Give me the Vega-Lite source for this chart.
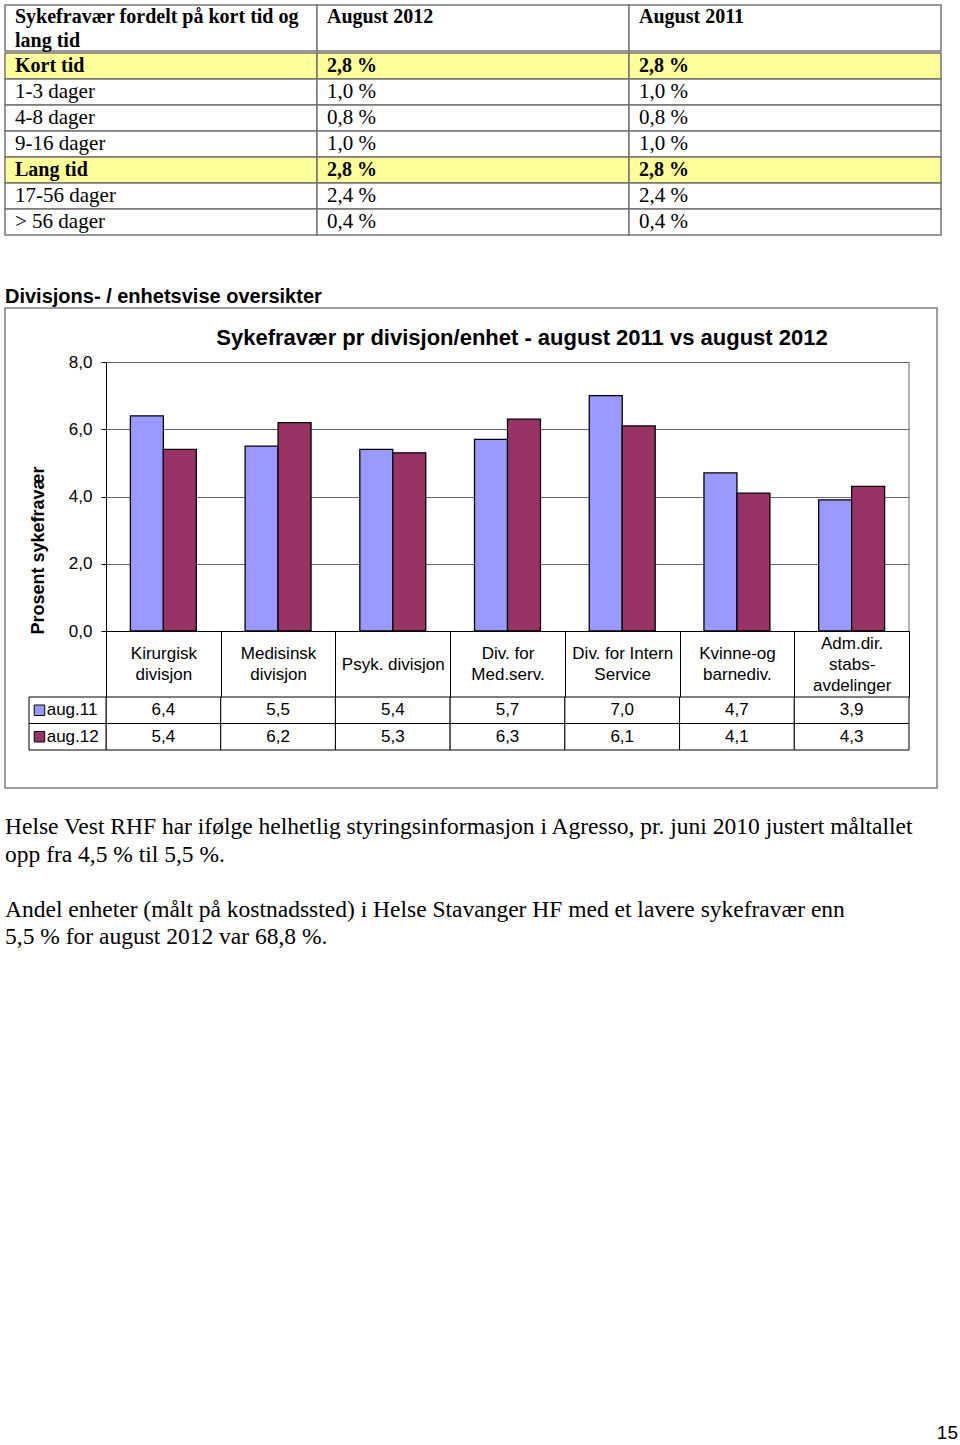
{
  "$schema": "https://vega.github.io/schema/vega-lite/v6.json",
  "padding": {"left": 4, "top": 4, "right": 0, "bottom": 0},
  "spacing": 0,
  "background": "white",
  "config": {
    "font": "Liberation Sans",
    "view": {"stroke": null},
    "locale": {"number": {"decimal": ",", "thousands": " ", "grouping": [3], "currency": ["", " kr"]}},
    "axis": {"labelColor": "black", "titleColor": "black"}
  },
  "resolve": {"scale": {"color": "independent", "fill": "independent"}},
  "datasets": {
    "table": [
      {"row": 1, "col": "c1", "text": "Kort tid", "kind": "sum"},
      {"row": 1, "col": "c2", "text": "2,8 %", "kind": "sum"},
      {"row": 1, "col": "c3", "text": "2,8 %", "kind": "sum"},
      {"row": 2, "col": "c1", "text": "1-3 dager", "kind": "detail"},
      {"row": 2, "col": "c2", "text": "1,0 %", "kind": "detail"},
      {"row": 2, "col": "c3", "text": "1,0 %", "kind": "detail"},
      {"row": 3, "col": "c1", "text": "4-8 dager", "kind": "detail"},
      {"row": 3, "col": "c2", "text": "0,8 %", "kind": "detail"},
      {"row": 3, "col": "c3", "text": "0,8 %", "kind": "detail"},
      {"row": 4, "col": "c1", "text": "9-16 dager", "kind": "detail"},
      {"row": 4, "col": "c2", "text": "1,0 %", "kind": "detail"},
      {"row": 4, "col": "c3", "text": "1,0 %", "kind": "detail"},
      {"row": 5, "col": "c1", "text": "Lang tid", "kind": "sum"},
      {"row": 5, "col": "c2", "text": "2,8 %", "kind": "sum"},
      {"row": 5, "col": "c3", "text": "2,8 %", "kind": "sum"},
      {"row": 6, "col": "c1", "text": "17-56 dager", "kind": "detail"},
      {"row": 6, "col": "c2", "text": "2,4 %", "kind": "detail"},
      {"row": 6, "col": "c3", "text": "2,4 %", "kind": "detail"},
      {"row": 7, "col": "c1", "text": "> 56 dager", "kind": "detail"},
      {"row": 7, "col": "c2", "text": "0,4 %", "kind": "detail"},
      {"row": 7, "col": "c3", "text": "0,4 %", "kind": "detail"}
    ],
    "bars": [
      {"division": "Kirurgisk\ndivisjon", "series": "aug.11", "value": 6.4},
      {"division": "Kirurgisk\ndivisjon", "series": "aug.12", "value": 5.4},
      {"division": "Medisinsk\ndivisjon", "series": "aug.11", "value": 5.5},
      {"division": "Medisinsk\ndivisjon", "series": "aug.12", "value": 6.2},
      {"division": "Psyk. divisjon", "series": "aug.11", "value": 5.4},
      {"division": "Psyk. divisjon", "series": "aug.12", "value": 5.3},
      {"division": "Div. for\nMed.serv.", "series": "aug.11", "value": 5.7},
      {"division": "Div. for\nMed.serv.", "series": "aug.12", "value": 6.3},
      {"division": "Div. for Intern\nService", "series": "aug.11", "value": 7.0},
      {"division": "Div. for Intern\nService", "series": "aug.12", "value": 6.1},
      {"division": "Kvinne-og\nbarnediv.", "series": "aug.11", "value": 4.7},
      {"division": "Kvinne-og\nbarnediv.", "series": "aug.12", "value": 4.1},
      {"division": "Adm.dir.\nstabs-\navdelinger", "series": "aug.11", "value": 3.9},
      {"division": "Adm.dir.\nstabs-\navdelinger", "series": "aug.12", "value": 4.3}
    ],
    "legendRows": [
      {"series": "aug.11"},
      {"series": "aug.12"}
    ],
    "paragraphs": [
      {"line": 1, "text": "Helse Vest RHF har ifølge helhetlig styringsinformasjon i Agresso, pr. juni 2010 justert måltallet"},
      {"line": 2, "text": "opp fra 4,5 % til 5,5 %."},
      {"line": 4, "text": "Andel enheter (målt på kostnadssted) i Helse Stavanger HF med et lavere sykefravær enn"},
      {"line": 5, "text": "5,5 % for august 2012 var 68,8 %."}
    ]
  },
  "vconcat": [
    {
      "width": 936,
      "height": 46,
      "data": {"values": [
        {"col": "c1", "text": "Sykefravær fordelt på kort tid og\nlang tid"},
        {"col": "c2", "text": "August 2012"},
        {"col": "c3", "text": "August 2011"}
      ]},
      "layer": [
        {
          "mark": {"type": "rect", "fill": "white", "stroke": "#767676", "strokeWidth": 1.5},
          "encoding": {
            "x": {"field": "col", "type": "nominal", "scale": {"domain": ["c1", "c2", "c3"], "paddingInner": 0, "paddingOuter": 0}, "axis": null}
          }
        },
        {
          "mark": {"type": "text", "align": "left", "baseline": "alphabetic", "dx": 10, "dy": -5, "font": "Liberation Serif", "fontSize": 20, "fontWeight": "bold", "lineBreak": "\n", "lineHeight": 24, "color": "black"},
          "encoding": {
            "x": {"field": "col", "type": "nominal", "bandPosition": 0, "axis": null},
            "text": {"field": "text"}
          }
        }
      ]
    },
    {
      "width": 936,
      "height": 182,
      "data": {"name": "table"},
      "title": {"text": "Divisjons- / enhetsvise oversikter", "orient": "bottom", "anchor": "start", "frame": "group", "offset": 51, "baseline": "top", "font": "Liberation Sans", "fontSize": 20, "fontWeight": "bold", "color": "black"},
      "encoding": {
        "y": {"field": "row", "type": "ordinal", "scale": {"domain": [1, 2, 3, 4, 5, 6, 7], "paddingInner": 0, "paddingOuter": 0}, "axis": null}
      },
      "layer": [
        {
          "mark": {"type": "rect", "stroke": "#767676", "strokeWidth": 1.5},
          "encoding": {
            "x": {"field": "col", "type": "nominal", "scale": {"domain": ["c1", "c2", "c3"], "paddingInner": 0, "paddingOuter": 0}, "axis": null},
            "fill": {"field": "kind", "type": "nominal", "scale": {"domain": ["sum", "detail"], "range": ["#ffff99", "#ffffff"]}, "legend": null}
          }
        },
        {
          "transform": [{"filter": "datum.kind === 'detail'"}],
          "mark": {"type": "text", "align": "left", "baseline": "middle", "dx": 10, "font": "Liberation Serif", "fontSize": 21, "color": "black"},
          "encoding": {
            "x": {"field": "col", "type": "nominal", "bandPosition": 0, "axis": null},
            "text": {"field": "text"}
          }
        },
        {
          "transform": [{"filter": "datum.kind === 'sum'"}],
          "mark": {"type": "text", "align": "left", "baseline": "middle", "dx": 10, "font": "Liberation Serif", "fontSize": 20, "fontWeight": "bold", "color": "black"},
          "encoding": {
            "x": {"field": "col", "type": "nominal", "bandPosition": 0, "axis": null},
            "text": {"field": "text"}
          }
        }
      ]
    },
    {
      "width": 932,
      "height": 480,
      "view": {"stroke": "#808080", "strokeWidth": 1.5},
      "title": {"text": "Sykefravær pr divisjon/enhet - august 2011 vs august 2012", "offset": -59, "dx": 51, "anchor": "middle", "baseline": "alphabetic", "font": "Liberation Sans", "fontSize": 22, "fontWeight": "bold", "color": "black"},
      "resolve": {"scale": {"x": "independent", "y": "independent"}},
      "layer": [
        {
          "layer": [
            {
              "data": {"name": "bars"},
              "mark": {"type": "bar", "stroke": "black", "strokeWidth": 1.3},
              "encoding": {
                "x": {
                  "field": "division", "type": "nominal",
                  "scale": {"domain": ["Kirurgisk\ndivisjon", "Medisinsk\ndivisjon", "Psyk. divisjon", "Div. for\nMed.serv.", "Div. for Intern\nService", "Kvinne-og\nbarnediv.", "Adm.dir.\nstabs-\navdelinger"], "range": [101, 904], "paddingInner": 0, "paddingOuter": 0},
                  "axis": {
                    "title": null, "offset": -157, "tickBand": "extent", "tickSize": 66, "tickColor": "black", "domainColor": "black",
                    "labelExpr": "split(datum.label, '\\n')", "labelFont": "Liberation Sans", "labelFontSize": 17, "labelColor": "black",
                    "labelBaseline": "middle", "labelLineHeight": 21, "labelAngle": 0, "labelLimit": 0, "grid": false,
                    "labelPadding": {"condition": [
                      {"test": "length(split(datum.value, '\\n')) == 3", "value": -54},
                      {"test": "length(split(datum.value, '\\n')) == 2", "value": -43.5}
                    ], "value": -33}
                  }
                },
                "xOffset": {"field": "series", "type": "nominal", "scale": {"domain": ["aug.11", "aug.12"], "paddingInner": 0, "paddingOuter": 0.74}},
                "y": {
                  "field": "value", "type": "quantitative",
                  "scale": {"domain": [0, 8], "range": [323, 54], "nice": false},
                  "axis": {"title": "Prosent sykefravær", "offset": -101, "values": [0, 2, 4, 6, 8], "format": ".1f", "labelFont": "Liberation Sans", "labelFontSize": 17, "labelColor": "black", "labelPadding": 9, "tickSize": 5, "tickColor": "black", "domainColor": "black", "grid": true, "gridColor": "#666666", "titleFont": "Liberation Sans", "titleFontSize": 18, "titleFontWeight": "bold", "titleColor": "black", "titlePadding": 21, "titleY": 242}
                },
                "color": {"field": "series", "type": "nominal", "scale": {"domain": ["aug.11", "aug.12"], "range": ["#9999ff", "#993366"]}, "legend": null}
              }
            },
            {
              "data": {"values": [{}]},
              "mark": {"type": "rule", "color": "#808080", "strokeWidth": 1.2},
              "encoding": {
                "x": {"datum": "Adm.dir.\nstabs-\navdelinger", "type": "nominal", "bandPosition": 1},
                "y": {"datum": 0, "type": "quantitative"},
                "y2": {"datum": 8}
              }
            }
          ]
        },
        {
          "data": {"name": "bars"},
          "encoding": {
            "x": {"field": "division", "type": "nominal", "scale": {"domain": ["Kirurgisk\ndivisjon", "Medisinsk\ndivisjon", "Psyk. divisjon", "Div. for\nMed.serv.", "Div. for Intern\nService", "Kvinne-og\nbarnediv.", "Adm.dir.\nstabs-\navdelinger"], "range": [101, 904], "paddingInner": 0, "paddingOuter": 0}, "axis": null},
            "y": {"field": "series", "type": "nominal", "scale": {"domain": ["aug.11", "aug.12"], "range": [389, 442], "paddingInner": 0, "paddingOuter": 0}, "axis": null}
          },
          "layer": [
            {"mark": {"type": "rect", "fill": "white", "stroke": "black", "strokeWidth": 1}},
            {
              "mark": {"type": "text", "font": "Liberation Sans", "fontSize": 17, "color": "black", "baseline": "middle", "align": "center"},
              "encoding": {"text": {"field": "value", "type": "quantitative", "format": ".1f"}}
            }
          ]
        },
        {
          "data": {"name": "legendRows"},
          "encoding": {
            "y": {"field": "series", "type": "nominal", "scale": {"domain": ["aug.11", "aug.12"], "range": [389, 442], "paddingInner": 0, "paddingOuter": 0}, "axis": null}
          },
          "layer": [
            {
              "mark": {"type": "rect", "fill": "white", "stroke": "black", "strokeWidth": 1},
              "encoding": {
                "x": {"datum": "legend", "type": "nominal", "scale": {"type": "band", "domain": ["legend"], "range": [24, 101], "paddingInner": 0, "paddingOuter": 0}, "axis": null}
              }
            },
            {
              "mark": {"type": "point", "shape": "square", "filled": true, "size": 110, "stroke": "black", "strokeWidth": 1, "opacity": 1},
              "encoding": {
                "x": {"datum": "legend", "type": "nominal", "bandPosition": 0.136, "axis": null},
                "color": {"field": "series", "type": "nominal", "legend": null}
              }
            },
            {
              "mark": {"type": "text", "align": "left", "baseline": "middle", "font": "Liberation Sans", "fontSize": 17, "color": "black"},
              "encoding": {
                "x": {"datum": "legend", "type": "nominal", "bandPosition": 0.23, "axis": null},
                "text": {"field": "series"}
              }
            }
          ]
        }
      ]
    },
    {
      "width": 956,
      "height": 620,
      "data": {"name": "paragraphs"},
      "title": {"text": "15", "orient": "bottom", "anchor": "end", "frame": "group", "offset": 15, "dx": -3, "baseline": "top", "font": "Liberation Sans", "fontSize": 19, "fontWeight": "normal", "color": "black"},
      "mark": {"type": "text", "align": "left", "baseline": "middle", "font": "Liberation Serif", "fontSize": 23.5, "color": "black"},
      "encoding": {
        "x": {"datum": 0, "type": "quantitative", "scale": {"domain": [0, 1]}, "axis": null},
        "y": {"field": "line", "type": "quantitative", "scale": {"domain": [-0.377, 22.087], "reverse": true, "nice": false, "zero": false}, "axis": null},
        "text": {"field": "text"}
      }
    }
  ]
}
